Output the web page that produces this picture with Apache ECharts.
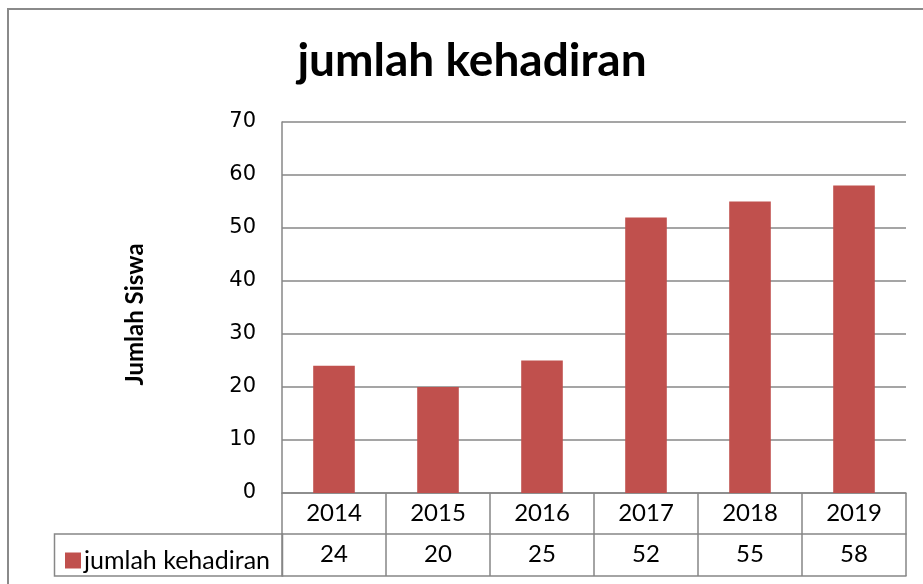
<!DOCTYPE html>
<html>
<head>
<meta charset="utf-8">
<script src="https://cdn.jsdelivr.net/npm/echarts@6/dist/echarts.min.js"></script>
<style>
  html, body { margin: 0; padding: 0; background: #fff; }
  #chart { width: 923px; height: 584px; }
</style>
</head>
<body>
<div id="chart"></div>
<script>
const years = ['2014', '2015', '2016', '2017', '2018', '2019'];
const attendance = [24, 20, 25, 52, 55, 58];
const seriesName = 'jumlah kehadiran';

const gridColor = '#878787';
const barColor = '#C0504D';
const tableFont = 'Lato';

const dom = document.getElementById('chart');
const myChart = echarts.init(dom, null, { renderer: 'canvas' });

const option = {
  animation: false,
  title: {
    text: 'jumlah kehadiran',
    left: 467,
    top: 33,
    textAlign: 'center',
    textStyle: { fontFamily: 'Lato', fontWeight: 'bold', fontSize: 46, color: '#000' }
  },
  legend: {
    left: 60,
    top: 543,
    icon: 'rect',
    itemWidth: 16,
    itemHeight: 16,
    data: [seriesName],
    textStyle: { fontFamily: tableFont, fontSize: 25, color: '#000', padding: [0, 0, 0, -2] }
  },
  grid: { left: 282, right: 17, top: 122, bottom: 91 },
  xAxis: [
    {
      type: 'category',
      data: years,
      position: 'bottom',
      axisLine: { lineStyle: { color: gridColor, width: 1.5 } },
      axisTick: { show: true, length: 41, interval: 0, lineStyle: { color: gridColor, width: 1.5 } },
      axisLabel: { margin: 8, fontFamily: tableFont, fontSize: 24, color: '#000' }
    },
    {
      type: 'category',
      data: years,
      position: 'bottom',
      offset: 41,
      axisLine: { lineStyle: { color: gridColor, width: 1.5 } },
      axisTick: { show: true, length: 42, interval: 0, lineStyle: { color: gridColor, width: 1.5 } },
      axisLabel: {
        margin: 8, fontFamily: tableFont, fontSize: 24, color: '#000',
        formatter: (value, index) => String(attendance[index])
      }
    },
    {
      type: 'category',
      data: years,
      position: 'bottom',
      offset: 83,
      axisLine: { lineStyle: { color: gridColor, width: 1.5 } },
      axisTick: { show: false },
      axisLabel: { show: false }
    }
  ],
  yAxis: {
    type: 'value',
    min: 0,
    max: 70,
    interval: 10,
    name: 'Jumlah Siswa',
    nameLocation: 'middle',
    nameGap: 135,
    nameTextStyle: { fontFamily: 'Lato', fontWeight: 'bold', fontSize: 24, color: '#000', padding: [0, 14, 0, 0] },
    axisLine: { show: true, lineStyle: { color: gridColor, width: 1.5 } },
    axisTick: { show: false },
    axisLabel: { margin: 26, fontFamily: 'DejaVu Sans', fontSize: 21, color: '#000' },
    splitLine: { lineStyle: { color: gridColor, width: 1.5 } }
  },
  graphic: [
    {
      type: 'rect',
      shape: { x: 8, y: 9, width: 1000, height: 1000 },
      style: { fill: 'none', stroke: '#8a8a8a', lineWidth: 2 }
    },
    {
      type: 'rect',
      shape: { x: 54.5, y: 534, width: 228, height: 42 },
      style: { fill: 'none', stroke: gridColor, lineWidth: 1.5 }
    }
  ],
  series: [
    {
      name: seriesName,
      type: 'bar',
      xAxisIndex: 0,
      barWidth: '40%',
      itemStyle: { color: barColor },
      data: attendance
    }
  ]
};

myChart.setOption(option);
</script>
</body>
</html>
